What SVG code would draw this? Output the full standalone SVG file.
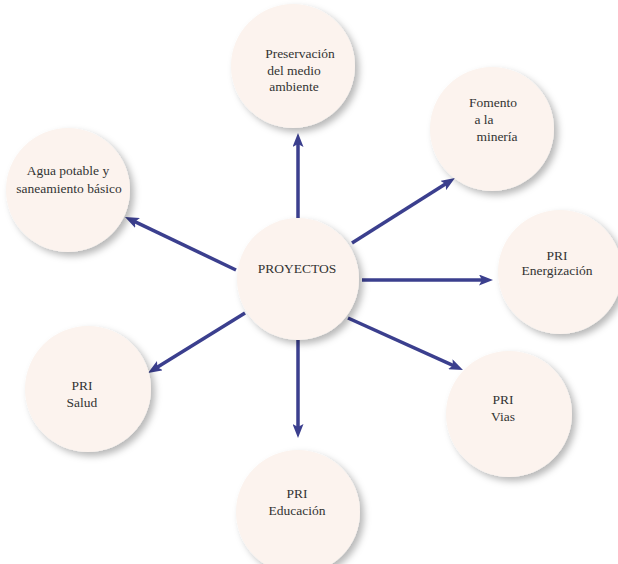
<svg xmlns="http://www.w3.org/2000/svg" width="618" height="564" viewBox="0 0 618 564">
<defs>
<filter id="sh" x="-20%" y="-20%" width="150%" height="150%">
<feDropShadow dx="4" dy="4" stdDeviation="3.5" flood-color="#000" flood-opacity="0.28"/>
</filter>
<marker id="ah" viewBox="0 0 14 11" refX="6" refY="5.5" markerWidth="14" markerHeight="11" markerUnits="userSpaceOnUse" orient="auto">
<path d="M0,0 L14,5.5 L0,11 L3,5.5 z" fill="#3b3f8e"/>
</marker>
</defs>
<style>
.n circle{fill:#fcf3ee;filter:url(#sh)}
.n text{font-size:13.5px;fill:#333;text-anchor:middle}
#edges line{stroke:#3b3f8e;stroke-width:3.5;marker-end:url(#ah)}
</style>
<rect width="618" height="564" fill="#fff"/>
<g id="edges">
<line x1="298" y1="218" x2="298" y2="141"/>
<line x1="352" y1="243" x2="448.2" y2="182.3"/>
<line x1="236" y1="270" x2="132.2" y2="220.4"/>
<line x1="362" y1="280" x2="485" y2="280"/>
<line x1="245" y1="313" x2="154.8" y2="368.8"/>
<line x1="348" y1="318" x2="455.7" y2="366.7"/>
<line x1="298" y1="340" x2="298" y2="430"/>
</g>
<g font-family="'Liberation Serif', 'DejaVu Serif', 'Times New Roman', serif">
<g id="preservacion" class="n"><circle cx="293" cy="66" r="62"/>
<text x="300" y="58">Preservación</text><text x="294" y="75">del medio</text><text x="294" y="91">ambiente</text></g>
<g id="fomento" class="n"><circle cx="492" cy="129" r="62"/>
<text x="493" y="107">Fomento</text><text x="484" y="124">a la</text><text x="497" y="141">minería</text></g>
<g id="agua" class="n"><circle cx="68" cy="190" r="62"/>
<text x="68" y="175">Agua potable y</text><text x="69" y="193">saneamiento básico</text></g>
<g id="proyectos" class="n"><circle cx="298" cy="279" r="61"/>
<text x="297" y="273">PROYECTOS</text></g>
<g id="energizacion" class="n"><circle cx="560" cy="272" r="62"/>
<text x="557" y="260">PRI</text><text x="557" y="275">Energización</text></g>
<g id="salud" class="n"><circle cx="88" cy="389" r="63"/>
<text x="82" y="390">PRI</text><text x="82" y="407">Salud</text></g>
<g id="vias" class="n"><circle cx="509" cy="414" r="63"/>
<text x="503" y="404">PRI</text><text x="503" y="421">Vias</text></g>
<g id="educacion" class="n"><circle cx="298" cy="512" r="62"/>
<text x="297" y="498">PRI</text><text x="297" y="515">Educación</text></g>
</g>
</svg>
